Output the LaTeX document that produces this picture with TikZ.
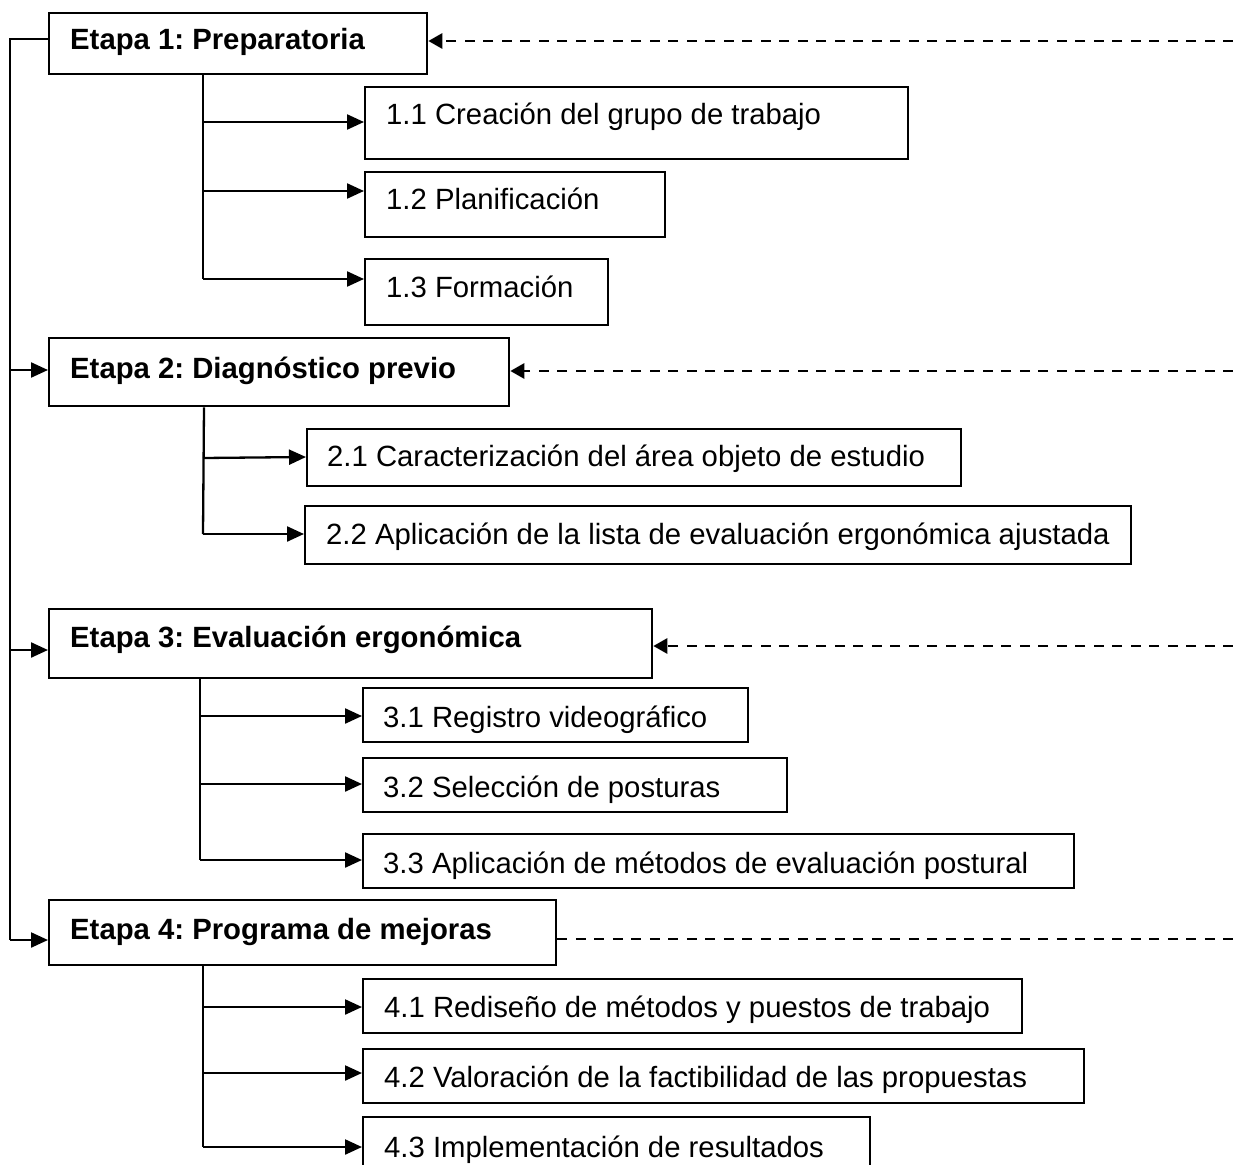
\documentclass[tikz,border=0pt]{standalone}
\usepackage{fontspec}
\setmainfont{Liberation Sans}
\usetikzlibrary{arrows.meta}
\frenchspacing
\begin{document}
\begin{tikzpicture}[x=1pt,y=-1pt,
  box/.style={draw, line width=2.3pt, inner sep=0pt, anchor=north west},
  lbl/.style={anchor=base west, inner sep=0pt, font=\fontsize{29.3pt}{34pt}\selectfont},
  blbl/.style={lbl, font=\fontsize{29.3pt}{34pt}\selectfont\bfseries},
  ln/.style={line width=2.3pt},
  arr/.style={line width=2.3pt, -{Triangle[length=17pt,width=15pt]}},
  dsh/.style={line width=2.8pt, dash pattern=on 10pt off 8.5pt},
  darr/.style={dsh, -{Triangle[length=14pt,width=15pt]}}
]
\clip (0,0) rectangle (1233,1164);
\fill[white] (0,0) rectangle (1233,1164);

% Etapa 1
\node[box, minimum width=378pt, minimum height=61pt] (e1) at (48,12) {};
\node[blbl] (e1t) at (70,50) {Etapa 1: Preparatoria};
\node[box, minimum width=543pt, minimum height=72pt] (c11) at (364,86) {};
\node[lbl] (c11t) at (386,124) {1.1 Creación del grupo de trabajo};
\node[box, minimum width=300pt, minimum height=65pt] (c12) at (364,171) {};
\node[lbl] (c12t) at (386,209) {1.2 Planificación};
\node[box, minimum width=243pt, minimum height=66pt] (c13) at (364,258) {};
\node[lbl] (c13t) at (386,297) {1.3 Formación};

% Etapa 2
\node[box, minimum width=460pt, minimum height=68pt] (e2) at (48,337) {};
\node[blbl] (e2t) at (70,378) {Etapa 2: Diagnóstico previo};
\node[box, minimum width=654pt, minimum height=57pt] (c21) at (306,428) {};
\node[lbl] (c21t) at (327,466) {2.1 Caracterización del área objeto de estudio};
\node[box, minimum width=826pt, minimum height=58pt] (c22) at (304,505) {};
\node[lbl] (c22t) at (326,544) {2.2 Aplicación de la lista de evaluación ergonómica ajustada};

% Etapa 3
\node[box, minimum width=603pt, minimum height=69pt] (e3) at (48,608) {};
\node[blbl] (e3t) at (70,647) {Etapa 3: Evaluación ergonómica};
\node[box, minimum width=385pt, minimum height=54pt] (c31) at (362,687) {};
\node[lbl] (c31t) at (383,727) {3.1 Registro videográfico};
\node[box, minimum width=424pt, minimum height=54pt] (c32) at (362,757) {};
\node[lbl] (c32t) at (383,797) {3.2 Selección de posturas};
\node[box, minimum width=711pt, minimum height=54pt] (c33) at (362,833) {};
\node[lbl] (c33t) at (383,873) {3.3 Aplicación de métodos de evaluación postural};

% Etapa 4
\node[box, minimum width=507pt, minimum height=65pt] (e4) at (48,899) {};
\node[blbl] (e4t) at (70,939) {Etapa 4: Programa de mejoras};
\node[box, minimum width=659pt, minimum height=54pt] (c41) at (362,978) {};
\node[lbl] (c41t) at (384,1017) {4.1 Rediseño de métodos y puestos de trabajo};
\node[box, minimum width=721pt, minimum height=54pt] (c42) at (362,1048) {};
\node[lbl] (c42t) at (384,1087) {4.2 Valoración de la factibilidad de las propuestas};
\node[box, minimum width=507pt, minimum height=60pt] (c43) at (362,1116) {};
\node[lbl] (c43t) at (384,1157) {4.3 Implementación de resultados};

% main trunk
\coordinate (t1) at (10,39);
\coordinate (t4) at (10,940);
\draw[ln] (e1.west |- t1) -- (t1) -- (t4);
\draw[arr] (t4) -- (e4.west |- t4);
\draw[arr] (10,370) -- (e2.west |- 0,370);
\draw[arr] (10,650) -- (e3.west |- 0,650);

% stage 1 branches
\draw[ln] (e1.south -| 203,0) -- (203,279);
\draw[arr] (203,122) -- (c11.west |- 0,122);
\draw[arr] (203,191) -- (c12.west |- 0,191);
\draw[arr] (203,279) -- (c13.west |- 0,279);

% stage 2 branches
\draw[ln] (e2.south -| 204,0) -- (203,534);
\draw[arr] (203,458) -- (c21.west |- 0,457);
\draw[arr] (203,534) -- (c22.west |- 0,534);

% stage 3 branches
\draw[ln] (e3.south -| 200,0) -- (200,860);
\draw[arr] (200,716) -- (c31.west |- 0,716);
\draw[arr] (200,784) -- (c32.west |- 0,784);
\draw[arr] (200,860) -- (c33.west |- 0,860);

% stage 4 branches
\draw[ln] (e4.south -| 203,0) -- (203,1147);
\draw[arr] (203,1007) -- (c41.west |- 0,1007);
\draw[arr] (203,1073) -- (c42.west |- 0,1073);
\draw[arr] (203,1147) -- (c43.west |- 0,1147);

% feedback dashed lines
\coordinate (f1) at (1233,41);
\coordinate (f2) at (1233,371);
\coordinate (f3) at (1233,646);
\coordinate (f4) at (1233,939);
\draw[darr] (f1) -- (e1.east |- f1);
\draw[darr] (f2) -- (e2.east |- f2);
\draw[darr] (f3) -- (e3.east |- f3);
\draw[dsh] (e4.east |- f4) -- (f4);
\end{tikzpicture}
\end{document}
